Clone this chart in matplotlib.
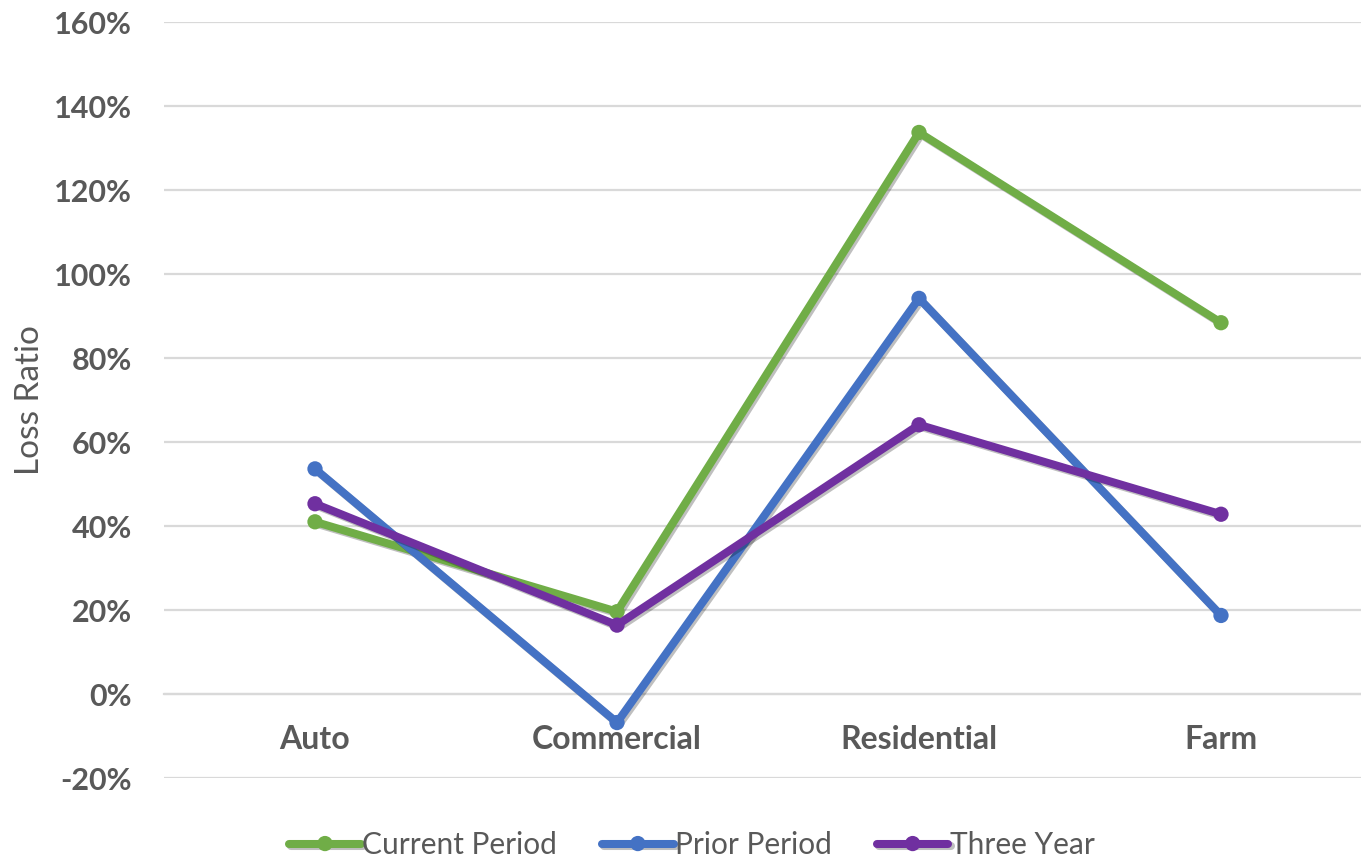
import matplotlib
matplotlib.use("Agg")
import matplotlib.pyplot as plt
import matplotlib.patheffects as pe
from matplotlib.ticker import FuncFormatter, MultipleLocator

# Loss ratios by line of business (percent)
categories = ["Auto", "Commercial", "Residential", "Farm"]
current_period = [41.0, 19.6, 133.7, 88.4]
prior_period = [53.6, -6.8, 94.2, 18.7]
three_year = [45.3, 16.4, 64.1, 42.8]

series_names = ["Current Period", "Prior Period", "Three Year"]
series_values = [current_period, prior_period, three_year]
series_colors = ["#70AD47", "#4472C4", "#7030A0"]

text_color = "#595959"
grid_color = "#D9D9D9"

plt.rcParams["font.family"] = ["Lato", "DejaVu Sans"]

fig = plt.figure(figsize=(13.61, 8.60), dpi=100)
# plot area runs slightly past the right edge of the canvas
ax = fig.add_axes([164 / 1361, 1 - 778 / 860, 1208 / 1361, (778 - 22) / 860])

x = list(range(len(categories)))
shadow = [pe.SimpleLineShadow(offset=(1.5, -1.5), shadow_color="black", alpha=0.25),
          pe.Normal()]
for name, vals, col in zip(series_names, series_values, series_colors):
    ax.plot(x, vals, color=col, linewidth=5.8, marker="o", markersize=11,
            markeredgewidth=0, label=name, solid_capstyle="round",
            solid_joinstyle="round", path_effects=shadow, zorder=3)

ax.set_xlim(-0.5, len(categories) - 0.5)
ax.set_ylim(-20, 160)
ax.yaxis.set_major_locator(MultipleLocator(20))
ax.yaxis.set_major_formatter(FuncFormatter(lambda v, _: f"{v:.0f}%"))
ax.grid(axis="y", color=grid_color, linewidth=1.6, zorder=0)
ax.set_axisbelow(True)

for side in ["top", "right", "left"]:
    ax.spines[side].set_visible(False)
ax.spines["bottom"].set_position(("data", 0))
ax.spines["bottom"].set_color(grid_color)
ax.spines["bottom"].set_linewidth(1.6)

ax.set_xticks(x)
ax.set_xticklabels(categories)
ax.tick_params(axis="x", length=0, pad=22, labelsize=23, labelcolor=text_color)
ax.tick_params(axis="y", length=0, pad=23, labelsize=22, labelcolor=text_color)
for lbl in ax.get_xticklabels() + ax.get_yticklabels():
    lbl.set_fontweight("bold")

ax.set_ylabel("Loss Ratio", fontsize=24, color=text_color)
ax.yaxis.set_label_coords(-119 / 1208, 0.5)

leg = fig.legend(loc="center", bbox_to_anchor=(692 / 1361, 1 - 845 / 860), ncol=3,
                 frameon=False, fontsize=21.5, handlelength=2.4, handletextpad=0.05,
                 columnspacing=1.5, labelcolor=text_color)

fig.savefig("out.png", dpi=100, facecolor="white")
